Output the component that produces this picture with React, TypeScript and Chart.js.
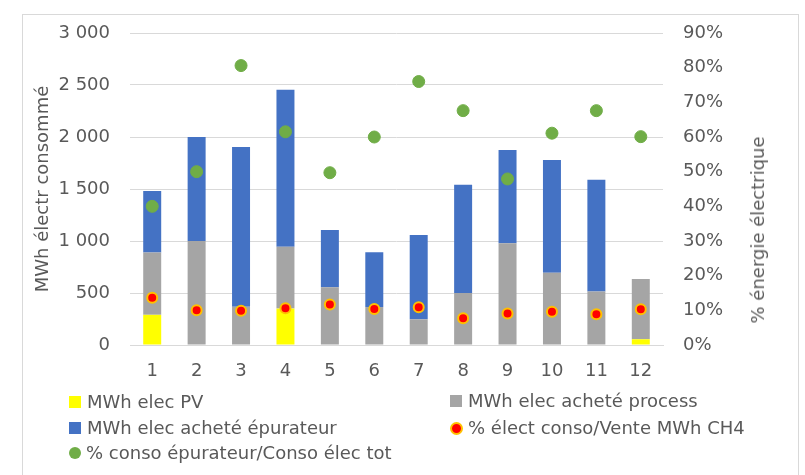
import React, { useEffect, useRef } from 'react';
import { Chart, registerables } from 'chart.js';

Chart.register(...registerables);

const categories = ['1', '2', '3', '4', '5', '6', '7', '8', '9', '10', '11', '12'];
const pvValues = [290, 0, 0, 350, 0, 0, 0, 0, 0, 0, 0, 55];
const processValues = [600, 1000, 368, 595, 555, 365, 247, 500, 978, 695, 515, 580];
const epurateurValues = [590, 1000, 1537, 1510, 551, 526, 811, 1040, 897, 1085, 1075, 0];
const pctElectVente = [13.6, 10.0, 9.9, 10.6, 11.7, 10.4, 10.9, 7.7, 9.1, 9.6, 8.9, 10.3];
const pctEpurateur = [40, 50, 80.6, 61.5, 49.7, 60, 76, 67.6, 47.9, 61.1, 67.6, 60.1];

const labelPV = 'MWh elec PV';
const labelProcess = 'MWh elec acheté process';
const labelEpurateur = 'MWh elec acheté épurateur';
const labelPctVente = '% élect conso/Vente MWh CH4';
const labelPctEpurateur = '% conso épurateur/Conso élec tot';
const leftAxisTitle = 'MWh électr consommé';
const rightAxisTitle = '% énergie électrique';

const COL_PV = '#FFFF00';
const COL_PROCESS = '#A5A5A5';
const COL_EPUR = '#4472C4';
const COL_RED = '#FF0000';
const COL_RED_BORDER = '#FFC000';
const COL_GREEN = '#70AD47';
const TEXT = '#595959';
const GRID = '#D9D9D9';
const FONT = '"DejaVu Sans", sans-serif';

function fmtThousands(v: number): string {
  return String(v).replace(/\B(?=(\d{3})+(?!\d))/g, ' ');
}

type LegendItem = { label: string; kind: 'square' | 'dot'; color: string; border?: string; x: number; y: number };

const legendItems: LegendItem[] = [
  { label: labelPV, kind: 'square', color: COL_PV, x: 69, y: 402 },
  { label: labelProcess, kind: 'square', color: COL_PROCESS, x: 450, y: 401 },
  { label: labelEpurateur, kind: 'square', color: COL_EPUR, x: 69, y: 428 },
  { label: labelPctVente, kind: 'dot', color: COL_RED, border: COL_RED_BORDER, x: 450, y: 428 },
  { label: labelPctEpurateur, kind: 'dot', color: COL_GREEN, x: 69, y: 453 },
];

export default function App() {
  const canvasRef = useRef<HTMLCanvasElement | null>(null);

  useEffect(() => {
    if (!canvasRef.current) return;
    const chart = new Chart(canvasRef.current, {
      type: 'bar',
      data: {
        labels: categories,
        datasets: [
          {
            type: 'line',
            label: labelPctVente,
            data: pctElectVente,
            yAxisID: 'y1',
            showLine: false,
            pointRadius: 5,
            pointBorderWidth: 2,
            pointBackgroundColor: COL_RED,
            pointBorderColor: COL_RED_BORDER,
            order: 0,
          } as any,
          {
            type: 'line',
            label: labelPctEpurateur,
            data: pctEpurateur,
            yAxisID: 'y1',
            showLine: false,
            pointRadius: 6,
            pointBorderWidth: 1,
            pointBackgroundColor: COL_GREEN,
            pointBorderColor: COL_GREEN,
            order: 0,
          } as any,
          {
            label: labelPV,
            data: pvValues,
            backgroundColor: COL_PV,
            yAxisID: 'y',
            stack: 's',
            order: 1,
          },
          {
            label: labelProcess,
            data: processValues,
            backgroundColor: COL_PROCESS,
            yAxisID: 'y',
            stack: 's',
            order: 1,
          },
          {
            label: labelEpurateur,
            data: epurateurValues,
            backgroundColor: COL_EPUR,
            yAxisID: 'y',
            stack: 's',
            order: 1,
          },
        ],
      },
      options: {
        responsive: false,
        animation: false,
        devicePixelRatio: 1,
        layout: { padding: { left: 0, right: 0, top: 33, bottom: 90 } },
        datasets: {
          bar: { categoryPercentage: 1, barPercentage: 0.405, borderWidth: 0 },
        },
        plugins: {
          legend: { display: false },
          tooltip: { enabled: false },
          title: { display: false },
        },
        scales: {
          x: {
            stacked: true,
            grid: { display: true, drawOnChartArea: false, drawTicks: false },
            border: { display: true, color: GRID, width: 1 },
            ticks: { color: TEXT, font: { family: FONT, size: 18 }, padding: 16, maxRotation: 0 },
            afterFit: (s: any) => { s.height = 40; },
          },
          y: {
            position: 'left',
            stacked: true,
            min: 0,
            max: 3000,
            ticks: {
              stepSize: 500,
              color: TEXT,
              font: { family: FONT, size: 18 },
              padding: 20,
              callback: (v: any) => fmtThousands(Number(v)),
            },
            grid: { color: GRID, lineWidth: 1, drawTicks: false },
            border: { display: false },
            title: {
              display: true,
              text: leftAxisTitle,
              color: TEXT,
              font: { family: FONT, size: 18 },
              padding: { top: 33, bottom: 0 },
            },
            afterFit: (s: any) => { s.width = 130; },
          },
          y1: {
            position: 'right',
            stacked: false,
            min: 0,
            max: 90,
            ticks: {
              stepSize: 10,
              color: TEXT,
              font: { family: FONT, size: 18 },
              padding: 20,
              callback: (v: any) => `${v}%`,
            },
            grid: { drawOnChartArea: false, drawTicks: false },
            border: { display: false },
            afterFit: (s: any) => { s.width = 142; },
          },
        },
      } as any,
    });
    return () => chart.destroy();
  }, []);

  return (
    <div style={{ position: 'fixed', left: 0, top: 0, width: 805, height: 475, background: '#fff', overflow: 'hidden', fontFamily: FONT }}>
      <div style={{ position: 'absolute', left: 22, top: 14, width: 777, height: 480, border: `1px solid ${GRID}`, boxSizing: 'border-box' }} />
      <canvas ref={canvasRef} width={805} height={475} style={{ position: 'absolute', left: 0, top: 0, width: 805, height: 475 }} />
      <div
        style={{
          position: 'absolute',
          left: 758,
          top: 230,
          transform: 'translate(-50%, -50%) rotate(-90deg)',
          whiteSpace: 'nowrap',
          color: TEXT,
          fontSize: 18,
          lineHeight: '22px',
        }}
      >
        {rightAxisTitle}
      </div>
      {legendItems.map((it) => (
        <div
          key={it.label}
          style={{ position: 'absolute', left: it.x, top: it.y - 11, height: 22, display: 'flex', alignItems: 'center', whiteSpace: 'nowrap', color: TEXT, fontSize: 18, lineHeight: '22px' }}
        >
          {it.kind === 'square' ? (
            <span style={{ display: 'inline-block', width: 12, height: 12, background: it.color, marginRight: 6 }} />
          ) : (
            <span
              style={{
                display: 'inline-block',
                width: it.border ? 9 : 12,
                height: it.border ? 9 : 12,
                borderRadius: '50%',
                background: it.color,
                border: it.border ? `2px solid ${it.border}` : 'none',
                marginRight: 5,
              }}
            />
          )}
          <span>{it.label}</span>
        </div>
      ))}
    </div>
  );
}
